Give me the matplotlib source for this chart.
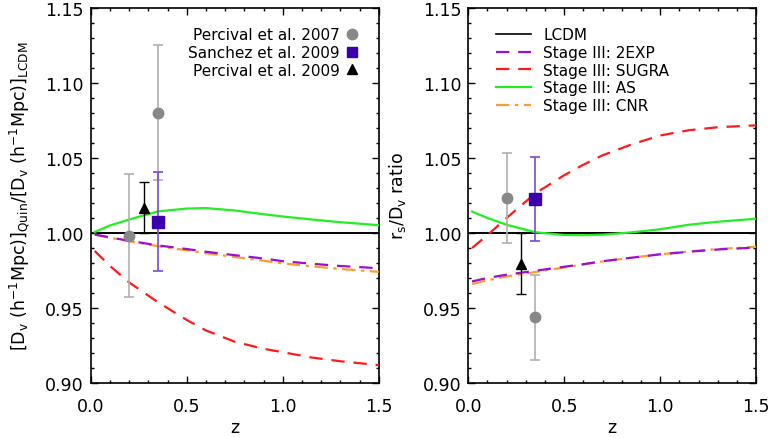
import matplotlib
matplotlib.use("Agg")
import matplotlib.pyplot as plt
from matplotlib.lines import Line2D
from matplotlib.ticker import MultipleLocator, FormatStrFormatter

plt.rcParams['font.family'] = ['DejaVu Sans']
plt.rcParams['mathtext.fontset'] = 'dejavusans'

# ---- model curves: D_V ratio (left panel) ----
z_left = [0.02, 0.1, 0.2, 0.35, 0.5, 0.6, 0.75, 0.9, 1.0, 1.15, 1.3, 1.5]
lcdm_left = [1.0] * len(z_left)
as_left = [1.0007, 1.0050, 1.0090, 1.0144, 1.0163, 1.0166, 1.0150, 1.0125, 1.0110, 1.0090, 1.0072, 1.0052]
exp_left = [0.9990, 0.9970, 0.9948, 0.9917, 0.9893, 0.9875, 0.9852, 0.9830, 0.9812, 0.9795, 0.9780, 0.9765]
cnr_left = [0.9990, 0.9968, 0.9945, 0.9912, 0.9885, 0.9865, 0.9840, 0.9815, 0.9797, 0.9778, 0.9760, 0.9741]
sugra_left = [0.9880, 0.9780, 0.9670, 0.9538, 0.9420, 0.9350, 0.9275, 0.9228, 0.9205, 0.9170, 0.9145, 0.9119]

# ---- model curves: r_s/D_V ratio (right panel) ----
z_right = [0.02, 0.1, 0.2, 0.35, 0.5, 0.6, 0.7, 0.85, 1.0, 1.15, 1.3, 1.5]
lcdm_right = [1.0] * len(z_right)
as_right = [1.0143, 1.0100, 1.0055, 1.0005, 0.9987, 0.9985, 0.9989, 1.0004, 1.0025, 1.0055, 1.0075, 1.0095]
exp_right = [0.9677, 0.9700, 0.9722, 0.9748, 0.9775, 0.9792, 0.9812, 0.9835, 0.9858, 0.9875, 0.9890, 0.9903]
cnr_right = [0.9660, 0.9685, 0.9710, 0.9740, 0.9770, 0.9790, 0.9810, 0.9835, 0.9858, 0.9877, 0.9893, 0.9908]
sugra_right = [0.9900, 0.9985, 1.0100, 1.0264, 1.0385, 1.0455, 1.0518, 1.0590, 1.0650, 1.0685, 1.0705, 1.0718]

# ---- BAO measurements ----
p07_z = [0.2, 0.35]
p07_left = [0.998, 1.080]
p07_left_err = [0.041, 0.045]
p07_right = [1.0235, 0.9437]
p07_right_err = [0.030, 0.0285]

s09_z = [0.35]
s09_left = [1.0075]
s09_left_err = [0.033]
s09_right = [1.0226]
s09_right_err = [0.028]

p09_z = [0.275]
p09_left = [1.0168]
p09_left_err = [0.017]
p09_right = [0.9795]
p09_right_err = [0.0205]

model_labels = ['LCDM', 'Stage III: 2EXP', 'Stage III: SUGRA', 'Stage III: AS', 'Stage III: CNR']
data_labels = ['Percival et al. 2007', 'Sanchez et al. 2009', 'Percival et al. 2009']

C_GREEN = '#22ee22'
C_RED = '#ff1a1a'
C_PURPLE = '#9a10d0'
C_ORANGE = '#ff9a30'
C_SQUARE = '#3a00b0'
C_SQERR = '#7a4ad8'
C_GREY = '#888888'
C_GREYERR = '#b0b0b0'

LW = 1.6
dash_long = (0, (6, 4))
dash_dot = (0, (6, 2.5, 1.5, 2.5))
FS_TICK = 12.5
FS_LEG = 11

fig = plt.figure(figsize=(7.70, 4.39), dpi=100)
axL = fig.add_axes([0.118, 0.1253, 0.374, 0.8542])
axR = fig.add_axes([0.608, 0.1253, 0.374, 0.8542])


def draw_models(ax, z, lcdm, exp2, sugra, as_, cnr):
    ax.plot([0.0, 1.5], [1.0, 1.0], color='black', lw=1.2, zorder=2)
    ax.plot(z, lcdm, color='black', lw=1.2, zorder=2)
    ax.plot(z, cnr, color=C_ORANGE, lw=LW, linestyle=dash_dot, zorder=3)
    ax.plot(z, exp2, color=C_PURPLE, lw=LW, linestyle=dash_long, zorder=3)
    ax.plot(z, sugra, color=C_RED, lw=LW, linestyle=dash_long, zorder=3)
    ax.plot(z, as_, color=C_GREEN, lw=LW, zorder=3)


def draw_data(ax, p07, p07e, s09, s09e, p09, p09e):
    ax.errorbar(p07_z, p07, yerr=p07e, fmt='o', color=C_GREY, ecolor=C_GREYERR,
                ms=7.5, elinewidth=1.2, capsize=3.6, capthick=1.2, zorder=4)
    ax.errorbar(s09_z, s09, yerr=s09e, fmt='s', color=C_SQUARE, ecolor=C_SQERR,
                ms=8, elinewidth=1.2, capsize=3.6, capthick=1.2, zorder=5)
    ax.errorbar(p09_z, p09, yerr=p09e, fmt='^', color='black', ecolor='black',
                ms=7.5, elinewidth=1.0, capsize=3.6, capthick=1.0, zorder=5)


def style_axes(ax):
    ax.set_xlim(0.0, 1.5)
    ax.set_ylim(0.90, 1.15)
    ax.xaxis.set_major_locator(MultipleLocator(0.5))
    ax.xaxis.set_minor_locator(MultipleLocator(0.1))
    ax.yaxis.set_major_locator(MultipleLocator(0.05))
    ax.yaxis.set_minor_locator(MultipleLocator(0.01))
    ax.xaxis.set_major_formatter(FormatStrFormatter('%.1f'))
    ax.yaxis.set_major_formatter(FormatStrFormatter('%.2f'))
    ax.tick_params(which='both', direction='in', top=True, right=True, width=1.0)
    ax.tick_params(which='major', length=5, labelsize=FS_TICK)
    ax.tick_params(which='minor', length=2.5)
    ax.tick_params(axis='x', which='major', pad=10)
    ax.tick_params(axis='y', which='major', pad=5)
    for s in ax.spines.values():
        s.set_linewidth(1.2)
    ax.set_xlabel('z', fontsize=FS_TICK, labelpad=2)


draw_models(axL, z_left, lcdm_left, exp_left, sugra_left, as_left, cnr_left)
draw_data(axL, p07_left, p07_left_err, s09_left, s09_left_err, p09_left, p09_left_err)
style_axes(axL)
axL.set_ylabel(r'$[\mathrm{D_v\ (h^{-1}Mpc)}]_{\mathrm{Quin}}/[\mathrm{D_v\ (h^{-1}Mpc)}]_{\mathrm{LCDM}}$',
               fontsize=FS_TICK)
axL.yaxis.set_label_coords(-0.205, 0.5)

draw_models(axR, z_right, lcdm_right, exp_right, sugra_right, as_right, cnr_right)
draw_data(axR, p07_right, p07_right_err, s09_right, s09_right_err, p09_right, p09_right_err)
style_axes(axR)
axR.set_ylabel(r'$\mathrm{r_s/D_v}$ ratio', fontsize=FS_TICK)
axR.yaxis.set_label_coords(-0.21, 0.5)

# data legend (left panel): text followed by marker
data_handles = [
    Line2D([], [], linestyle='none', marker='o', color=C_GREY, ms=7.5),
    Line2D([], [], linestyle='none', marker='s', color=C_SQUARE, ms=7.5),
    Line2D([], [], linestyle='none', marker='^', color='black', ms=7),
]
axL.legend(data_handles, data_labels, loc='upper right', frameon=False, markerfirst=False,
           fontsize=FS_LEG, handlelength=0.8, handletextpad=0.4, labelspacing=0.17,
           borderaxespad=0.0, borderpad=0.0, bbox_to_anchor=(0.927, 0.948))

# model legend (right panel)
model_handles = [
    Line2D([], [], color='black', lw=1.2),
    Line2D([], [], color=C_PURPLE, lw=LW, linestyle=dash_long),
    Line2D([], [], color=C_RED, lw=LW, linestyle=dash_long),
    Line2D([], [], color=C_GREEN, lw=LW),
    Line2D([], [], color=C_ORANGE, lw=LW, linestyle=dash_dot),
]
axR.legend(model_handles, model_labels, loc='upper left', frameon=False,
           fontsize=FS_LEG, handlelength=2.3, handletextpad=0.8, labelspacing=0.17,
           borderaxespad=0.0, borderpad=0.0, bbox_to_anchor=(0.097, 0.948))

fig.savefig('out.png', dpi=100)
